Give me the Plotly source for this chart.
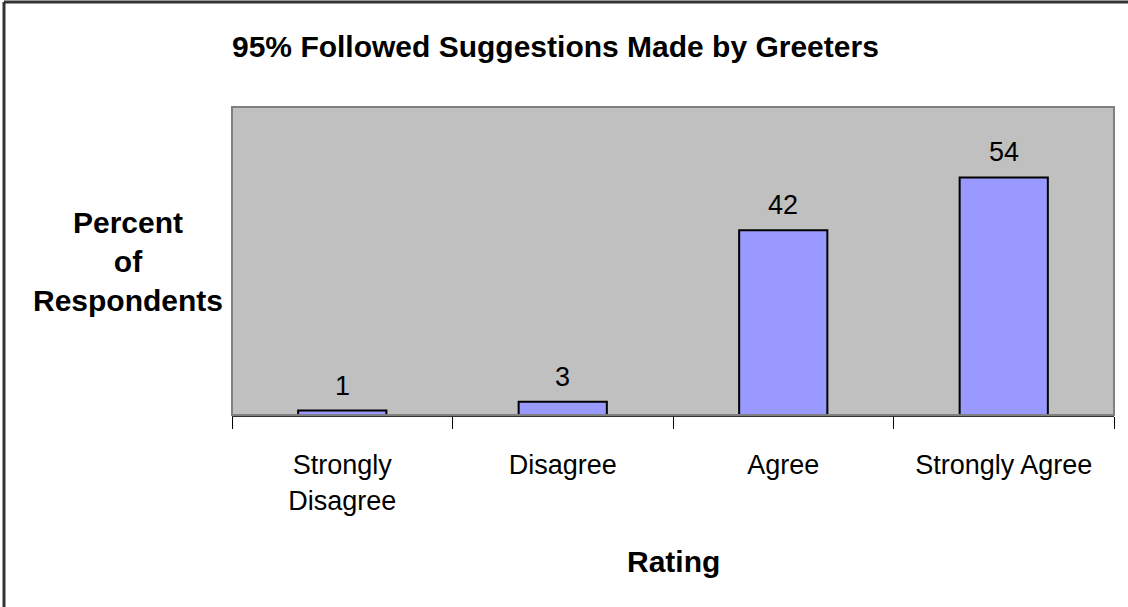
import plotly.graph_objects as go

# Survey results: share of respondents per rating
categories = ["Strongly Disagree", "Disagree", "Agree", "Strongly Agree"]
tick_labels = ["Strongly<br>Disagree", "Disagree", "Agree", "Strongly Agree"]
percents = [1, 3, 42, 54]

FONT = "Liberation Sans, Arial, sans-serif"

fig = go.Figure()
fig.add_trace(go.Bar(
    x=categories,
    y=percents,
    width=0.4,
    marker=dict(color="#9999FF", line=dict(color="#000000", width=2)),
    hoverinfo="x+y",
))

annotations = []
# value labels above each bar
for cat, val in zip(categories, percents):
    annotations.append(dict(
        x=cat, y=val, xref="x", yref="y", text=str(val),
        showarrow=False, yanchor="bottom", yshift=8,
        font=dict(family=FONT, size=27, color="#000000"),
    ))

annotations += [
    dict(text="<b>95% Followed Suggestions Made by Greeters</b>",
         x=0.367, y=1.195, xref="paper", yref="paper", showarrow=False,
         xanchor="center", yanchor="middle",
         font=dict(family=FONT, size=30, color="#000000")),
    dict(text="<b>Percent<br>of<br>Respondents</b>",
         x=-0.118, y=0.497, xref="paper", yref="paper", showarrow=False,
         xanchor="center", yanchor="middle", align="center",
         font=dict(family=FONT, size=30, color="#000000")),
    dict(text="<b>Rating</b>",
         x=0.5, y=-0.477, xref="paper", yref="paper", showarrow=False,
         xanchor="center", yanchor="middle",
         font=dict(family=FONT, size=30, color="#000000")),
]

shapes = [
    # plot-area frame
    dict(type="rect", xref="paper", yref="paper", x0=0, x1=1, y0=0, y1=1,
         line=dict(color="#808080", width=2), layer="above"),
    # outer frame (top and left edges)
    dict(type="line", xref="paper", yref="paper", x0=-0.2585, x1=1.2,
         y0=1.341, y1=1.341, line=dict(color="#333333", width=3)),
    dict(type="line", xref="paper", yref="paper", x0=-0.2585, x1=-0.2585,
         y0=1.341, y1=-0.7, line=dict(color="#333333", width=3)),
]

fig.update_layout(
    width=1128, height=607,
    margin=dict(l=232, r=14, t=107, b=192, autoexpand=False),
    paper_bgcolor="#FFFFFF",
    plot_bgcolor="#C0C0C0",
    showlegend=False,
    bargap=0.6,
    annotations=annotations,
    shapes=shapes,
    font=dict(family=FONT, color="#000000"),
)

fig.update_xaxes(
    type="category",
    tickmode="array", tickvals=categories, ticktext=tick_labels,
    tickson="boundaries", ticks="outside", ticklen=12, tickwidth=1,
    tickcolor="#000000",
    showline=True, linecolor="#333333", linewidth=2,
    showgrid=False, zeroline=False,
    ticklabelstandoff=25,
    tickfont=dict(family=FONT, size=27, color="#000000"),
)
fig.update_yaxes(
    range=[0, 70],
    showticklabels=False, ticks="", showgrid=False, zeroline=False,
    showline=False,
)

fig.write_html("out.html")
